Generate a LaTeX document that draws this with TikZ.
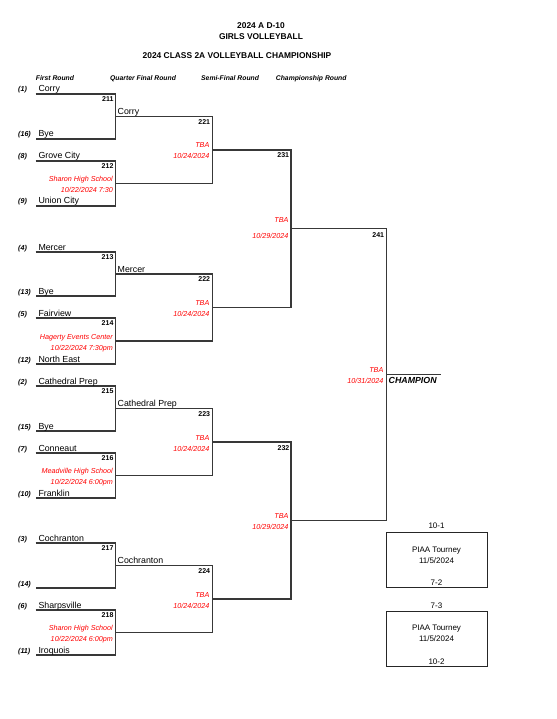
\documentclass[tikz,border=0pt]{standalone}
\usepackage{fontspec}
\setmainfont{Liberation Sans}
\begin{document}
\begin{tikzpicture}[x=1pt,y=-1pt,
  bracket/.style={draw=black!78, line width=1.25pt, line join=miter},
  team/.style={anchor=base west, inner sep=0, font=\fontsize{8.8}{10}\selectfont},
  seed/.style={anchor=base west, inner sep=0, font=\fontsize{7.1}{8}\selectfont\bfseries\itshape},
  num/.style={anchor=base east, inner sep=0, font=\fontsize{7}{8}\selectfont\bfseries},
  info/.style={anchor=base east, inner sep=0, text=red, font=\fontsize{7.2}{8}\selectfont\itshape},
  hdr/.style={anchor=base west, inner sep=0, font=\fontsize{6.8}{8}\selectfont\bfseries\itshape},
  ttl/.style={anchor=base, inner sep=0, font=\fontsize{8.4}{10}\selectfont\bfseries},
  boxtxt/.style={anchor=base, inner sep=0, font=\fontsize{8}{9}\selectfont},
  piaa/.style={draw=black!85, line width=0.9pt, minimum width=101pt, minimum height=55pt, inner sep=0}
]
\useasboundingbox (0,0) rectangle (556,719);

% ---------- titles ----------
\node[ttl] (title1) at (261,28.3) {2024 A D-10};
\node[ttl] (title2) at (261,40) {GIRLS VOLLEYBALL};
\node[ttl] (title3) at (237,58.5) {2024 CLASS 2A VOLLEYBALL CHAMPIONSHIP};

\node[hdr] (h1) at (35.7,80.5) {First Round};
\node[hdr] (h2) at (110,80.5) {Quarter Final Round};
\node[hdr] (h3) at (201,80.5) {Semi-Final Round};
\node[hdr] (h4) at (275.7,80.5) {Championship Round};

% ---------- coordinates ----------
% first round slots
\coordinate (a1) at (35.7,94);   \coordinate (a2) at (35.7,139);
\coordinate (a3) at (35.7,161);  \coordinate (a4) at (35.7,206);
\coordinate (a5) at (35.7,252);  \coordinate (a6) at (35.7,296);
\coordinate (a7) at (35.7,318);  \coordinate (a8) at (35.7,364);
\coordinate (a9) at (35.7,386);  \coordinate (a10) at (35.7,431);
\coordinate (a11) at (35.7,453); \coordinate (a12) at (35.7,498);
\coordinate (a13) at (35.7,543); \coordinate (a14) at (35.7,588);
\coordinate (a15) at (35.7,610); \coordinate (a16) at (35.7,655);
% match outputs
\coordinate (m211) at (115.7,116.5);
\coordinate (m212) at (115.7,183.5);
\coordinate (m213) at (115.7,274);
\coordinate (m214) at (115.7,341);
\coordinate (m215) at (115.7,408.5);
\coordinate (m216) at (115.7,475.5);
\coordinate (m217) at (115.7,565.5);
\coordinate (m218) at (115.7,632.5);
\coordinate (m221) at (212.3,150);
\coordinate (m222) at (212.3,307.5);
\coordinate (m223) at (212.3,442);
\coordinate (m224) at (212.3,599);
\coordinate (m231) at (291,228.75);
\coordinate (m232) at (291,520.5);
\coordinate (m241) at (386.5,374.6);
\coordinate (champ) at (441,374.6);

% ---------- bracket lines ----------
\draw[bracket] (a1) -| (m211) |- (a2);
\draw[bracket] (a3) -| (m212) |- (a4);
\draw[bracket] (a5) -| (m213) |- (a6);
\draw[bracket] (a7) -| (m214) |- (a8);
\draw[bracket] (a9) -| (m215) |- (a10);
\draw[bracket] (a11) -| (m216) |- (a12);
\draw[bracket] (a13) -| (m217) |- (a14);
\draw[bracket] (a15) -| (m218) |- (a16);
\draw[bracket] (m211) -| (m221) |- (m212);
\draw[bracket] (m213) -| (m222) |- (m214);
\draw[bracket] (m215) -| (m223) |- (m216);
\draw[bracket] (m217) -| (m224) |- (m218);
\draw[bracket] (m221) -| (m231) |- (m222);
\draw[bracket] (m223) -| (m232) |- (m224);
\draw[bracket] (m231) -| (m241) |- (m232);
\draw[bracket] (m241) -- (champ);

% ---------- seeds and teams ----------
\node[seed] (s1) at (18,92) {(1)};    \node[team] (t1) at (38.3,92) {Corry};
\node[seed] (s16) at (18,137) {(16)}; \node[team] (t16) at (38.3,137) {Bye};
\node[seed] (s8) at (18,159) {(8)};   \node[team] (t8) at (38.3,159) {Grove City};
\node[seed] (s9) at (18,204) {(9)};   \node[team] (t9) at (38.3,204) {Union City};
\node[seed] (s4) at (18,250) {(4)};   \node[team] (t4) at (38.3,250) {Mercer};
\node[seed] (s13) at (18,294) {(13)}; \node[team] (t13) at (38.3,294) {Bye};
\node[seed] (s5) at (18,316) {(5)};   \node[team] (t5) at (38.3,316) {Fairview};
\node[seed] (s12) at (18,362) {(12)}; \node[team] (t12) at (38.3,362) {North East};
\node[seed] (s2) at (18,384) {(2)};   \node[team] (t2) at (38.3,384) {Cathedral Prep};
\node[seed] (s15) at (18,429) {(15)}; \node[team] (t15) at (38.3,429) {Bye};
\node[seed] (s7) at (18,451) {(7)};   \node[team] (t7) at (38.3,451) {Conneaut};
\node[seed] (s10) at (18,496) {(10)}; \node[team] (t10) at (38.3,496) {Franklin};
\node[seed] (s3) at (18,541) {(3)};   \node[team] (t3) at (38.3,541) {Cochranton};
\node[seed] (s14) at (18,586) {(14)};
\node[seed] (s6) at (18,608) {(6)};   \node[team] (t6) at (38.3,608) {Sharpsville};
\node[seed] (s11) at (18,653) {(11)}; \node[team] (t11) at (38.3,653) {Iroquois};

% quarter-final names
\node[team] (q1) at (117.5,114.5) {Corry};
\node[team] (q2) at (117.5,272) {Mercer};
\node[team] (q3) at (117.5,406.5) {Cathedral Prep};
\node[team] (q4) at (117.5,563.5) {Cochranton};

% ---------- match numbers ----------
\node[num] (n211) at (113.6,101.5) {211};
\node[num] (n212) at (113.6,168.5) {212};
\node[num] (n213) at (113.6,259.5) {213};
\node[num] (n214) at (113.6,325.5) {214};
\node[num] (n215) at (113.6,393.5) {215};
\node[num] (n216) at (113.6,460.5) {216};
\node[num] (n217) at (113.6,550.5) {217};
\node[num] (n218) at (113.6,617.5) {218};
\node[num] (n221) at (210.3,124.5) {221};
\node[num] (n222) at (210.3,281.5) {222};
\node[num] (n223) at (210.3,416) {223};
\node[num] (n224) at (210.3,573) {224};
\node[num] (n231) at (289.3,158) {231};
\node[num] (n232) at (289.5,450) {232};
\node[num] (n241) at (384.3,237) {241};

% ---------- red info ----------
\node[info] (i212a) at (113,181.5) {Sharon High School};
\node[info] (i212b) at (113,192.5) {10/22/2024 7:30};
\node[info] (i214a) at (113,339) {Hagerty Events Center};
\node[info] (i214b) at (113,350) {10/22/2024 7:30pm};
\node[info] (i216a) at (113,473.5) {Meadville High School};
\node[info] (i216b) at (113,484.5) {10/22/2024 6:00pm};
\node[info] (i218a) at (113,630.5) {Sharon High School};
\node[info] (i218b) at (113,641.5) {10/22/2024 6:00pm};
\node[info] (i221a) at (209.5,148) {TBA};
\node[info] (i221b) at (209.5,159) {10/24/2024};
\node[info] (i222a) at (209.5,305.5) {TBA};
\node[info] (i222b) at (209.5,316.5) {10/24/2024};
\node[info] (i223a) at (209.5,440) {TBA};
\node[info] (i223b) at (209.5,451) {10/24/2024};
\node[info] (i224a) at (209.5,597) {TBA};
\node[info] (i224b) at (209.5,608) {10/24/2024};
\node[info] (i231a) at (288.6,222.7) {TBA};
\node[info] (i231b) at (288.6,238.3) {10/29/2024};
\node[info] (i232a) at (288.6,518.5) {TBA};
\node[info] (i232b) at (288.6,529.5) {10/29/2024};
\node[info] (i241a) at (383.5,372.5) {TBA};
\node[info] (i241b) at (383.5,383.3) {10/31/2024};

\node[anchor=base west, inner sep=0, font=\fontsize{8.8}{10}\selectfont\bfseries\itshape] (champion) at (388.5,383.3) {CHAMPION};

% ---------- PIAA boxes ----------
\node[piaa] (box1) at (436.5,560) {};
\node[boxtxt] (b1top) at (436.5,528) {10-1};
\node[boxtxt] (b1l1) at (436.5,552.3) {PIAA Tourney};
\node[boxtxt] (b1l2) at (436.5,563.5) {11/5/2024};
\node[boxtxt] (b1bot) at (436.5,585) {7-2};

\node[piaa] (box2) at (436.5,638.5) {};
\node[boxtxt] (b2top) at (436.5,608) {7-3};
\node[boxtxt] (b2l1) at (436.5,630.5) {PIAA Tourney};
\node[boxtxt] (b2l2) at (436.5,641.7) {11/5/2024};
\node[boxtxt] (b2bot) at (436.5,664) {10-2};
\end{tikzpicture}
\end{document}
